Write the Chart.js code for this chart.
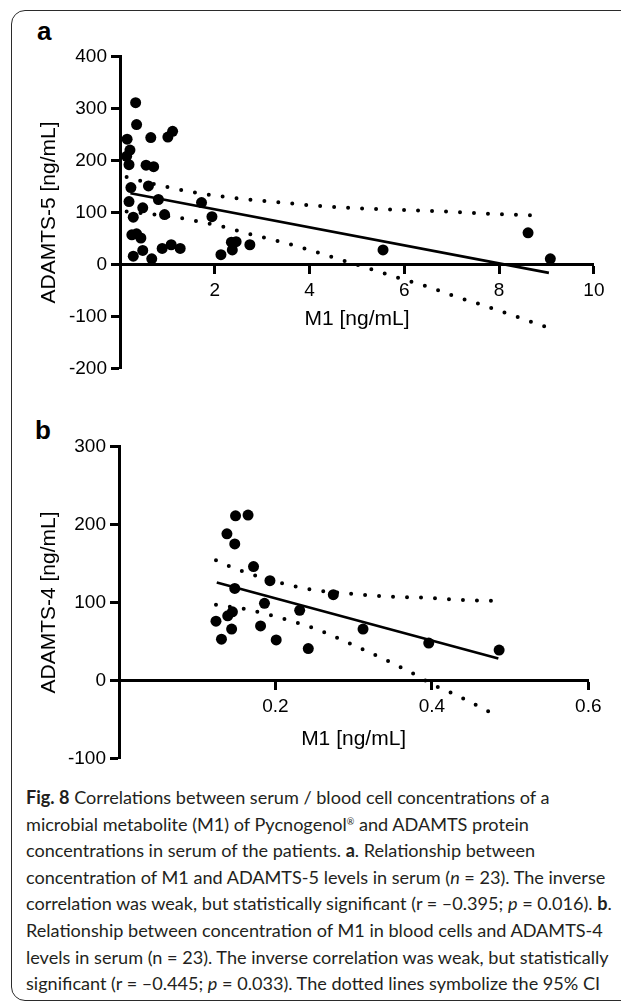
<!DOCTYPE html>
<html>
<head>
<meta charset="utf-8">
<script src="https://cdn.jsdelivr.net/npm/chart.js@4.4.0/dist/chart.umd.min.js"></script>
<style>
  body { margin: 0; background: #fff; width: 621px; height: 1002px; overflow: hidden; position: relative; }
  #frame { position: absolute; left: 11px; top: 10px; width: 650px; height: 989px; border: 1.5px solid #2b2b2b; border-radius: 14px; }
  canvas { position: absolute; }
  .tag { position: absolute; font: bold 26px 'Liberation Sans', Arial, sans-serif; line-height: 26px; color: #000; }
  #caption { position: absolute; left: 26px; top: 784px; font-family: Lato, sans-serif; font-size: 19px; line-height: 26.6px; color: #231f20; }
  #caption div { white-space: nowrap; width: max-content; }
  #caption sup { font-size: 0.5em; vertical-align: 0.7em; line-height: 0; }
</style>
</head>
<body>
<div id="frame"></div>
<div class="tag" style="left:37px;top:18px">a</div>
<div class="tag" style="left:35px;top:417px">b</div>
<canvas id="chartA" width="574" height="343" style="left:37px;top:41px"></canvas>
<canvas id="chartB" width="571" height="343" style="left:37px;top:431px"></canvas>
<div id="caption">
  <div><b>Fig. 8</b> Correlations between serum / blood cell concentrations of a</div>
  <div>microbial metabolite (M1) of Pycnogenol<sup>®</sup> and ADAMTS protein</div>
  <div>concentrations in serum of the patients. <b>a</b>. Relationship between</div>
  <div>concentration of M1 and ADAMTS-5 levels in serum (<i>n</i> = 23). The inverse</div>
  <div>correlation was weak, but statistically significant (r = –0.395; <i>p</i> = 0.016). <b>b</b>.</div>
  <div>Relationship between concentration of M1 in blood cells and ADAMTS-4</div>
  <div>levels in serum (n = 23). The inverse correlation was weak, but statistically</div>
  <div>significant (r = –0.445; <i>p</i> = 0.033). The dotted lines symbolize the 95% CI</div>
</div>
<script>
// panel a: M1 in serum vs ADAMTS-5
const m1SerumA = [0.33, 0.35, 0.15, 0.21, 0.14, 0.19, 0.65, 1.01, 1.11, 0.55, 0.71, 0.23, 0.60, 0.19, 0.81, 0.48, 0.28, 0.94, 1.72, 1.94,
                  0.25, 0.35, 0.44, 0.28, 0.48, 0.67, 0.89, 1.08, 1.27, 2.13, 2.37, 2.45, 2.35, 2.74, 5.55, 8.61, 9.08];
const adamts5 = [311, 269, 241, 220, 208, 192, 244, 245, 256, 191, 188, 148, 151, 121, 125, 109, 91, 96, 119, 92,
                 57, 59, 51, 16, 27, 11, 31, 38, 31, 19, 28, 44, 43, 38, 28, 61, 11];
const fitAx = [0.22, 9.05];
const fitAy = [137, -16];
const ciUpperAx = [0.14, 0.43, 0.99, 1.56, 2.13, 2.72, 3.3, 4.14, 5.03, 5.94, 6.81, 7.67, 8.9];
const ciUpperAy = [168, 161, 149, 139, 131, 125, 120, 113, 108, 105, 102, 98, 94];
const ciLowerAx = [0.14, 0.72, 1.30, 1.59, 2.16, 2.72, 3.3, 3.81, 4.35, 4.88, 5.44, 6.0, 6.51, 7.06, 7.62, 8.17, 8.96];
const ciLowerAy = [102, 96, 89, 84, 73, 59, 46, 33, 18, 3, -13, -29, -43, -61, -77, -94, -119];
const xTicksA = [2, 4, 6, 8, 10];
const yTicksA = [-200, -100, 0, 100, 200, 300, 400];

// panel b: M1 in blood cells vs ADAMTS-4
const m1CellsB = [0.149, 0.165, 0.138, 0.148, 0.172, 0.193, 0.148, 0.274, 0.186, 0.231, 0.145, 0.139, 0.124, 0.144, 0.181,
                  0.312, 0.131, 0.201, 0.242, 0.396, 0.486];
const adamts4 = [211, 212, 188, 175, 146, 128, 118, 110, 99, 90, 88, 83, 76, 66, 70, 66, 53, 52, 41, 48, 39];
const fitBx = [0.125, 0.485];
const fitBy = [125.6, 28.3];
const ciUpperBx = [0.124, 0.141, 0.156, 0.173, 0.204, 0.237, 0.287, 0.34, 0.392, 0.446, 0.482];
const ciUpperBy = [154, 146.5, 140.6, 135, 126, 118, 112, 108, 106, 103, 102];
const ciLowerBx = [0.124, 0.159, 0.193, 0.225, 0.255, 0.287, 0.346, 0.376, 0.401, 0.434, 0.479];
const ciLowerBy = [97, 92, 84, 75, 65, 51, 24, 9, -5, -20, -43];
const xTicksB = [0.2, 0.4, 0.6];
const yTicksB = [-100, 0, 100, 200, 300];

const axisFont = "'Liberation Sans', Arial, sans-serif";

function pairs(xs, ys) {
    return xs.map((x, i) => ({ x: x, y: ys[i] }));
}

// 95% CI curves drawn as round dots
function dotted(xs, ys) {
    return {
        data: pairs(xs, ys), showLine: true, borderColor: '#000', borderWidth: 4,
        borderDash: [0, 14], borderCapStyle: 'round', pointRadius: 0,
        tension: 0.4, cubicInterpolationMode: 'monotone'
    };
}

function buildPanel(id, p) {
    return new Chart(document.getElementById(id), {
        type: 'scatter',
        data: {
            datasets: [
                { data: pairs(p.px, p.py), pointRadius: 5.5, pointBackgroundColor: '#000', pointBorderWidth: 0, showLine: false },
                { data: pairs(p.fx, p.fy), showLine: true, borderColor: '#000', borderWidth: 2.6, pointRadius: 0 },
                dotted(p.ux, p.uy),
                dotted(p.lx, p.ly)
            ]
        },
        options: {
            responsive: false,
            animation: false,
            devicePixelRatio: 1,
            layout: { padding: { top: 12, right: 14, bottom: 12, left: 0 } },
            plugins: { legend: { display: false }, tooltip: { enabled: false } },
            scales: {
                x: {
                    type: 'linear', min: 0, max: p.xMax,
                    position: { y: 0 },
                    afterBuildTicks: s => { s.ticks = p.xTicks.map(v => ({ value: v })); },
                    afterFit: s => { s.height = p.xTitleH; },
                    grid: { drawOnChartArea: false, tickLength: 8, tickWidth: 3, color: '#000' },
                    border: { color: '#000', width: 3 },
                    ticks: { color: '#000', padding: 6.5, maxRotation: 0, autoSkip: false, font: { family: axisFont, size: 19 },
                             callback: v => String(v) },
                    title: { display: true, text: 'M1 [ng/mL]', color: '#000', padding: 0,
                             font: { family: axisFont, size: 21, lineHeight: 1.2 } }
                },
                y: {
                    type: 'linear', min: p.yMin, max: p.yMax,
                    afterBuildTicks: s => { s.ticks = p.yTicks.map(v => ({ value: v })); },
                    afterFit: s => { s.width = p.yAxisW; },
                    grid: { drawOnChartArea: false, tickLength: 9, tickWidth: 3, color: '#000' },
                    border: { color: '#000', width: 3 },
                    ticks: { color: '#000', padding: 4, font: { family: axisFont, size: 19 }, callback: v => String(v) },
                    title: { display: true, text: p.yTitle, color: '#000', padding: 0,
                             font: { family: axisFont, size: 21, lineHeight: 1.2 } }
                }
            }
        }
    });
}

buildPanel('chartA', {
    px: m1SerumA, py: adamts5, fx: fitAx, fy: fitAy,
    ux: ciUpperAx, uy: ciUpperAy, lx: ciLowerAx, ly: ciLowerAy,
    xMax: 10, xTicks: xTicksA, yMin: -200, yMax: 400, yTicks: yTicksA,
    yTitle: 'ADAMTS-5 [ng/mL]', xTitleH: 67, yAxisW: 83
});

buildPanel('chartB', {
    px: m1CellsB, py: adamts4, fx: fitBx, fy: fitBy,
    ux: ciUpperBx, uy: ciUpperBy, lx: ciLowerBx, ly: ciLowerBy,
    xMax: 0.6, xTicks: xTicksB, yMin: -100, yMax: 300, yTicks: yTicksB,
    yTitle: 'ADAMTS-4 [ng/mL]', xTitleH: 71, yAxisW: 82
});

// fit caption width to the text block of the original (about 586px)
const cap = document.getElementById('caption');
let widest = 0;
cap.querySelectorAll('div').forEach(d => { widest = Math.max(widest, d.getBoundingClientRect().width); });
cap.style.fontSize = (19 * 586 / widest).toFixed(2) + 'px';
</script>
</body>
</html>
